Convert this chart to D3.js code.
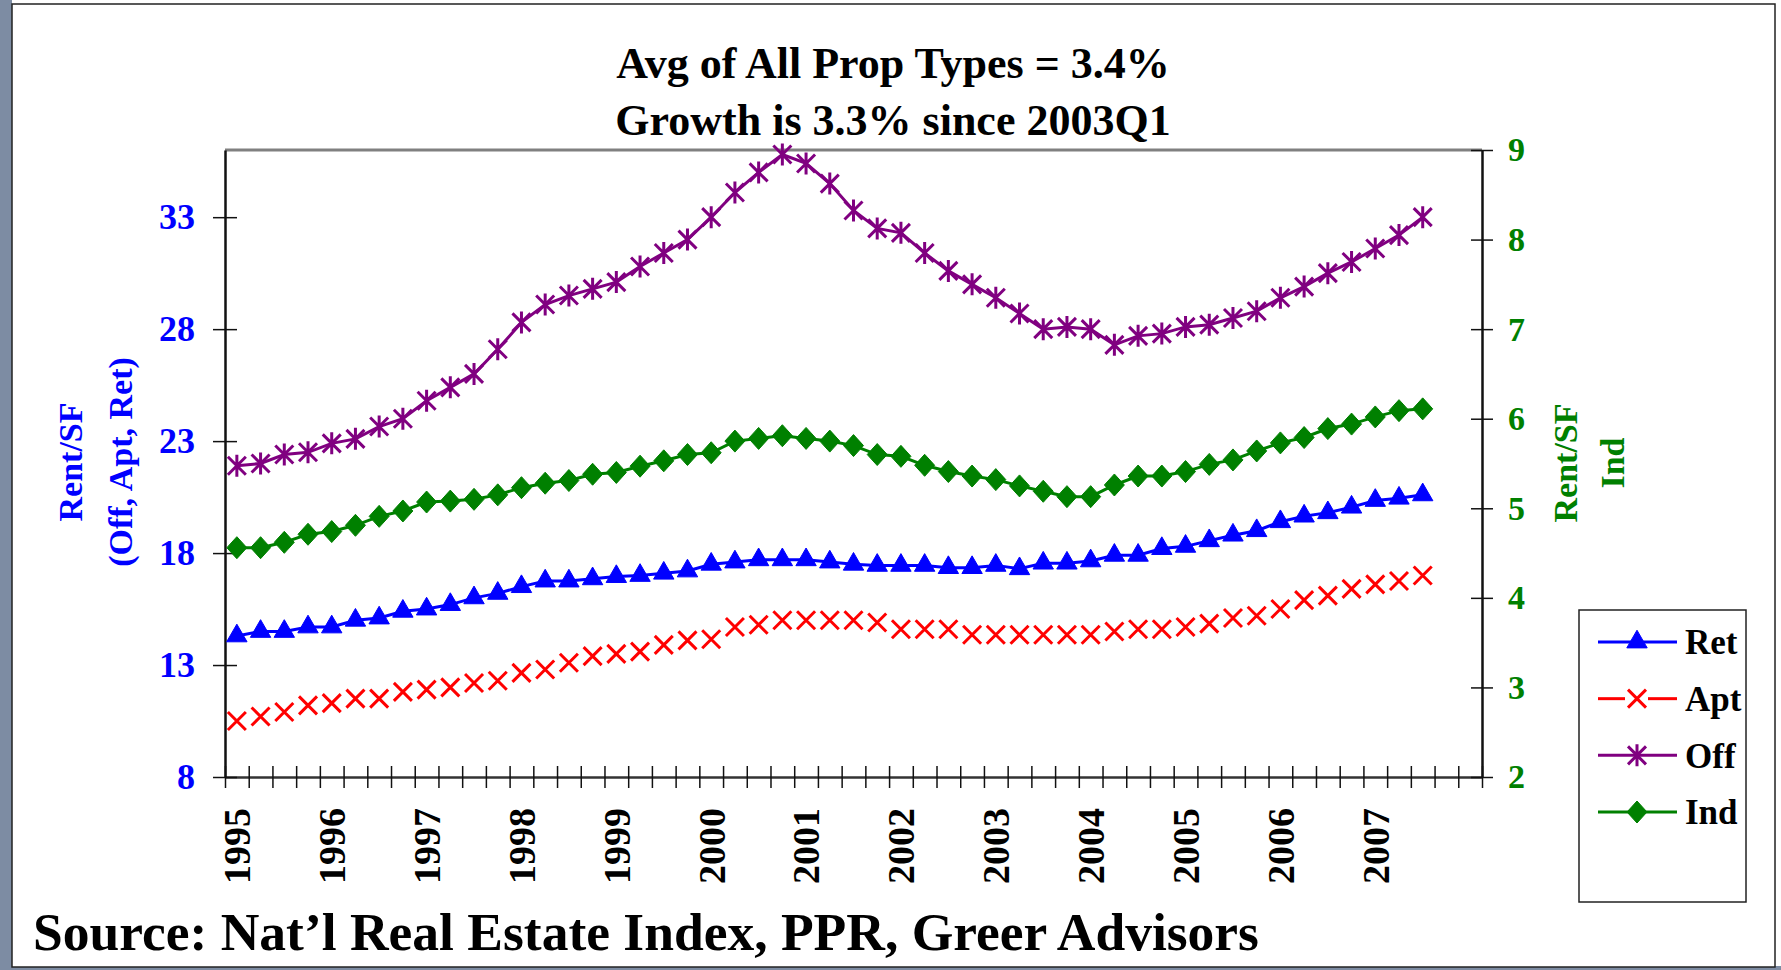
<!DOCTYPE html>
<html>
<head>
<meta charset="utf-8">
<script src="https://cdn.jsdelivr.net/npm/d3@7"></script>
<style>
  body { margin: 0; background: #fff; }
  svg text { font-family: "Liberation Serif", "Times New Roman", serif; font-weight: bold; }
</style>
</head>
<body>
<div id="chart"></div>
<script>
// quarters shown on the axis: 1995Q1 .. 2008Q1
const years = [1995, 1996, 1997, 1998, 1999, 2000, 2001, 2002, 2003, 2004, 2005, 2006, 2007, 2008];
const quarters = [];
years.forEach(y => [1, 2, 3, 4].forEach(q => { if (y < 2008 || q === 1) quarters.push(y + "Q" + q); }));

// rent per SF, 1995Q1 .. 2007Q3
const ret = [14.3, 14.5, 14.5, 14.7, 14.7, 15.0, 15.1, 15.4, 15.5, 15.7, 16.0, 16.2, 16.5, 16.75, 16.75, 16.85, 16.95,
  17.0, 17.1, 17.2, 17.5, 17.6, 17.7, 17.7, 17.7, 17.6, 17.5, 17.45, 17.45, 17.45, 17.35, 17.35, 17.45, 17.3, 17.55,
  17.55, 17.65, 17.9, 17.9, 18.2, 18.3, 18.55, 18.8, 19.0, 19.4, 19.65, 19.8, 20.05, 20.35, 20.45, 20.6];
const apt = [10.5, 10.7, 10.9, 11.2, 11.3, 11.5, 11.5, 11.8, 11.9, 12.0, 12.2, 12.3, 12.65, 12.8, 13.1, 13.4, 13.5,
  13.6, 13.9, 14.1, 14.15, 14.7, 14.8, 15.0, 15.0, 15.0, 15.0, 14.9, 14.6, 14.6, 14.6, 14.35, 14.35, 14.35, 14.35,
  14.35, 14.35, 14.5, 14.6, 14.6, 14.7, 14.85, 15.1, 15.2, 15.5, 15.9, 16.1, 16.4, 16.6, 16.75, 17.0];
const off = [21.9, 22.0, 22.4, 22.5, 22.9, 23.1, 23.65, 24.0, 24.8, 25.4, 26.0, 27.1, 28.3, 29.1, 29.5, 29.8, 30.1,
  30.8, 31.4, 32.0, 33.0, 34.1, 35.0, 35.8, 35.4, 34.5, 33.3, 32.5, 32.3, 31.4, 30.6, 30.0, 29.4, 28.7, 28.0,
  28.1, 28.0, 27.3, 27.7, 27.8, 28.1, 28.2, 28.5, 28.8, 29.4, 29.9, 30.5, 31.0, 31.6, 32.2, 33.0];
const ind = [4.56, 4.56, 4.62, 4.71, 4.74, 4.81, 4.91, 4.97, 5.07, 5.08, 5.10, 5.15, 5.23, 5.28, 5.31, 5.38, 5.40,
  5.47, 5.53, 5.60, 5.62, 5.75, 5.78, 5.81, 5.78, 5.75, 5.70, 5.60, 5.58, 5.48, 5.41, 5.36, 5.32, 5.25, 5.19,
  5.13, 5.13, 5.26, 5.36, 5.36, 5.41, 5.49, 5.54, 5.64, 5.73, 5.79, 5.89, 5.94, 6.02, 6.09, 6.11];

const leftTicks = [8, 13, 18, 23, 28, 33];
const rightTicks = [2, 3, 4, 5, 6, 7, 8, 9];
const titleLines = ["Avg of All Prop Types = 3.4%", "Growth is 3.3% since 2003Q1"];
const legendNames = ["Ret", "Apt", "Off", "Ind"];

const W = 1781, H = 970;
const plot = { left: 225, right: 1482, top: 150, bottom: 777 };

const svg = d3.select("#chart").append("svg")
  .attr("width", W).attr("height", H);

// slide frame with shadow on the left and bottom
svg.append("rect").attr("x", 0).attr("y", 0).attr("width", 12).attr("height", H).attr("fill", "#7d8ca3");
svg.append("rect").attr("x", 0).attr("y", 966).attr("width", W).attr("height", 4).attr("fill", "#7d8ca3");
svg.append("rect").attr("x", 12).attr("y", 4).attr("width", 1763).attr("height", 963)
  .attr("fill", "#fff").attr("stroke", "#222").attr("stroke-width", 1.5);

// scales
const x = d3.scaleBand().domain(quarters).range([plot.left, plot.right]).padding(0);
const xEdge = d3.scaleLinear().domain([0, quarters.length]).range([plot.left, plot.right]);
const yL = d3.scaleLinear().domain([8, 36]).range([plot.bottom, plot.top]);
const yR = d3.scaleLinear().domain([2, 9]).range([plot.bottom, plot.top]);
const cx = (d, i) => x(quarters[i]) + x.bandwidth() / 2;

// top border of plot area
svg.append("line")
  .attr("x1", plot.left).attr("x2", plot.right)
  .attr("y1", plot.top).attr("y2", plot.top)
  .attr("stroke", "#808080").attr("stroke-width", 3);

// x axis: tick marks at every quarter boundary
const xTicks = svg.append("g")
  .attr("transform", `translate(0,${plot.bottom})`)
  .call(d3.axisBottom(xEdge).tickValues(d3.range(quarters.length + 1)).tickSize(11).tickSizeOuter(0).tickFormat(""));
xTicks.select(".domain").attr("stroke", "#333").attr("stroke-width", 2.5);
xTicks.selectAll(".tick line").attr("y1", -11).attr("stroke", "#111").attr("stroke-width", 1.5);

// year labels
const xLabels = svg.append("g")
  .attr("transform", `translate(0,${plot.bottom})`)
  .call(d3.axisBottom(x).tickValues(quarters.filter(q => q.endsWith("Q1") && +q.slice(0, 4) < 2008)).tickSize(0)
    .tickFormat(q => q.slice(0, 4)));
xLabels.select(".domain").remove();
xLabels.selectAll("text")
  .attr("transform", "rotate(-90)")
  .attr("x", -31).attr("y", 0).attr("dy", "0.35em")
  .attr("text-anchor", "end")
  .attr("fill", "#000")
  .style("font-size", "38px");

// left axis
const left = svg.append("g")
  .attr("transform", `translate(${plot.left},0)`)
  .call(d3.axisLeft(yL).tickValues(leftTicks).tickSize(12).tickPadding(18).tickSizeOuter(0).tickFormat(d3.format("d")));
left.select(".domain").attr("stroke", "#111").attr("stroke-width", 2.5);
left.selectAll(".tick line").attr("x1", 12).attr("stroke", "#111").attr("stroke-width", 1.5);
left.selectAll("text").attr("fill", "#0000ff").style("font-size", "36px");

// right axis
const right = svg.append("g")
  .attr("transform", `translate(${plot.right},0)`)
  .call(d3.axisRight(yR).tickValues(rightTicks).tickSize(11).tickPadding(15).tickSizeOuter(0).tickFormat(d3.format("d")));
right.select(".domain").attr("stroke", "#111").attr("stroke-width", 2.5);
right.selectAll(".tick line").attr("x1", -11).attr("stroke", "#111").attr("stroke-width", 1.5);
right.selectAll("text").attr("fill", "#008000").style("font-size", "34px");

// axis titles
function axisTitle(lines, xs, cy, color) {
  lines.forEach((t, k) => {
    svg.append("text")
      .attr("transform", `translate(${xs[k]},${cy}) rotate(-90)`)
      .attr("text-anchor", "middle").attr("dy", "0.35em")
      .attr("fill", color).style("font-size", "34px")
      .text(t);
  });
}
axisTitle(["Rent/SF", "(Off, Apt, Ret)"], [70, 120], 462, "#0000ff");
axisTitle(["Rent/SF", "Ind"], [1565, 1612], 463, "#008000");

// title
titleLines.forEach((t, k) => {
  svg.append("text")
    .attr("x", 893).attr("y", 78 + k * 57)
    .attr("text-anchor", "middle")
    .style("font-size", "44px")
    .text(t);
});

// source
svg.append("text")
  .attr("x", 33).attr("y", 950)
  .style("font-size", "53.5px")
  .text("Source: Nat\u2019l Real Estate Index, PPR, Greer Advisors");

// marker shapes
const triPath = d3.symbol().type(d3.symbolTriangle).size(180)();
const xPath = "M-9,-9L9,9M-9,9L9,-9";
const starPath = "M-9,-9L9,9M-9,9L9,-9M0,-11L0,11";
const diamondPath = "M0,-11L10,0L0,11L-10,0Z";

const series = [
  { name: "Ret", values: ret, y: yL, color: "#0000ff", line: true, path: triPath, filled: true },
  { name: "Apt", values: apt, y: yL, color: "#ff0000", line: false, path: xPath, filled: false },
  { name: "Off", values: off, y: yL, color: "#800080", line: true, path: starPath, filled: false },
  { name: "Ind", values: ind, y: yR, color: "#008000", line: true, path: diamondPath, filled: true }
];

// draw order: Off, Ind, Ret, Apt
[2, 3, 0, 1].forEach(k => {
  const s = series[k];
  const g = svg.append("g");
  if (s.line) {
    g.append("path")
      .datum(s.values)
      .attr("fill", "none")
      .attr("stroke", s.color).attr("stroke-width", 3)
      .attr("d", d3.line().x(cx).y(d => s.y(d)));
  }
  g.selectAll("path.mk")
    .data(s.values)
    .enter().append("path")
    .attr("class", "mk")
    .attr("transform", (d, i) => `translate(${cx(d, i)},${s.y(d)})`)
    .attr("d", s.path)
    .attr("fill", s.filled ? s.color : "none")
    .attr("stroke", s.color)
    .attr("stroke-width", s.filled ? 1 : 3);
});

// legend
const legend = svg.append("g");
legend.append("rect")
  .attr("x", 1579).attr("y", 610).attr("width", 167).attr("height", 292)
  .attr("fill", "#fff").attr("stroke", "#222").attr("stroke-width", 1.5);
const legendY = d3.scalePoint().domain(legendNames).range([642, 812]);
series.forEach(s => {
  const ly = legendY(s.name);
  const item = legend.append("g");
  if (s.line) {
    item.append("line").attr("x1", 1598).attr("x2", 1677).attr("y1", ly).attr("y2", ly)
      .attr("stroke", s.color).attr("stroke-width", 3);
  } else {
    item.append("line").attr("x1", 1598).attr("x2", 1625).attr("y1", ly).attr("y2", ly)
      .attr("stroke", s.color).attr("stroke-width", 3);
    item.append("line").attr("x1", 1648).attr("x2", 1677).attr("y1", ly).attr("y2", ly)
      .attr("stroke", s.color).attr("stroke-width", 3);
  }
  item.append("path")
    .attr("transform", `translate(1637,${ly})`)
    .attr("d", s.path)
    .attr("fill", s.filled ? s.color : "none")
    .attr("stroke", s.color)
    .attr("stroke-width", s.filled ? 1 : 3);
  item.append("text")
    .attr("x", 1685).attr("y", ly).attr("dy", "0.35em")
    .style("font-size", "35px")
    .text(s.name);
});
</script>
</body>
</html>
